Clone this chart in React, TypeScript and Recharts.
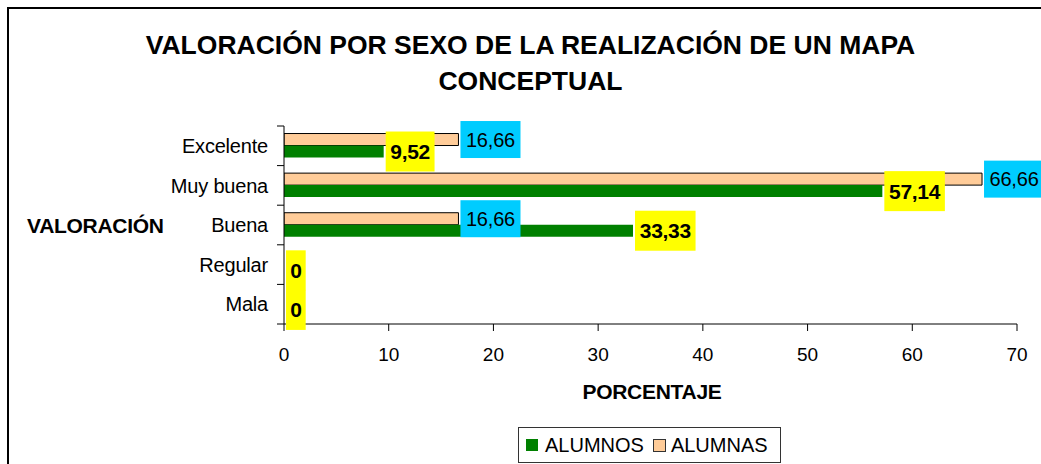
import React from 'react';
import { BarChart, Bar, XAxis, YAxis, LabelList } from 'recharts';

const CATEGORIES = ['Excelente', 'Muy buena', 'Buena', 'Regular', 'Mala'];
const ALUMNOS = [9.52, 57.14, 33.33, 0, 0];
const ALUMNAS = [16.66, 66.66, 16.66, null, null];
const X_TICKS = [0, 10, 20, 30, 40, 50, 60, 70];
const TITLE_LINES = ['VALORACIÓN POR SEXO DE LA REALIZACIÓN DE UN MAPA', 'CONCEPTUAL'];
const SERIES_NAMES = ['ALUMNOS', 'ALUMNAS'];

const data = CATEGORIES.map((name, i) => ({ name, alumnos: ALUMNOS[i], alumnas: ALUMNAS[i] }));

const FONT = '"Liberation Sans", Arial, sans-serif';
const fmt = (v: number) => v.toFixed(2).replace('.', ',').replace(/,00$/, '');

const textWidth = (s: string, size: number) => {
  let w = 0;
  for (const ch of s) w += ch === ',' ? 0.278 : 0.556;
  return w * size;
};

const AlumnosLabel = (props: any) => {
  const { x, y, width, height, value } = props;
  if (value === null || value === undefined) return null;
  const s = fmt(Number(value));
  const bw = textWidth(s, 21) + 8;
  const bh = 40;
  const bx = Number(x) + Number(width) + 2;
  const cy = Number(y) + Number(height) / 2;
  return (
    <g>
      <rect x={bx} y={cy - bh / 2} width={bw} height={bh} fill="#FFFF00" />
      <text x={bx + bw / 2} y={cy} dy="0.36em" textAnchor="middle" fontFamily={FONT} fontWeight="bold" fontSize={21} fill="#000" letterSpacing={-0.3}>{s}</text>
    </g>
  );
};

const AlumnasLabel = (props: any) => {
  const { x, y, width, height, value } = props;
  if (value === null || value === undefined) return null;
  const s = fmt(Number(value));
  const bw = textWidth(s, 20) + 10;
  const bh = 37;
  const bx = Number(x) + Number(width) + 2;
  const cy = Number(y) + Number(height) / 2;
  return (
    <g>
      <rect x={bx} y={cy - bh / 2} width={bw} height={bh} fill="#00CCFF" />
      <text x={bx + bw / 2} y={cy} dy="0.36em" textAnchor="middle" fontFamily={FONT} fontSize={20} fill="#000" letterSpacing={-0.2}>{s}</text>
    </g>
  );
};

const CategoryTick = (props: any) => {
  const { x, y, payload, index } = props;
  const off = payload && typeof payload.offset === 'number' ? payload.offset : 19.8;
  const lx2 = x + 16;
  const lx1 = x + 9;
  return (
    <g>
      <text x={x} y={y} dy="0.36em" textAnchor="end" fontFamily={FONT} fontSize={20} fill="#000" letterSpacing={-0.2}>{payload.value}</text>
      <line x1={lx1} x2={lx2} y1={y - off} y2={y - off} stroke="#000" strokeWidth={1} />
      {index === CATEGORIES.length - 1 && (
        <line x1={lx1} x2={lx2} y1={y + off} y2={y + off} stroke="#000" strokeWidth={1} />
      )}
    </g>
  );
};

const tinyForZero = (v: any) => (v === 0 ? 0.01 : 0);

export default function App() {
  return (
    <div style={{ position: 'absolute', left: 0, top: 0, width: 1041, height: 464, overflow: 'hidden', background: '#fff', fontFamily: FONT }}>
      <div style={{ position: 'absolute', left: 7, top: 7, width: 1100, height: 500, borderLeft: '2px solid #000', borderTop: '2px solid #000', boxSizing: 'border-box' }} />
      <div style={{ position: 'absolute', left: 0, width: 1061, top: 27, textAlign: 'center', fontSize: 26.5, fontWeight: 'bold', lineHeight: '36px', color: '#000' }}>
        {TITLE_LINES.map((l) => (<div key={l}>{l}</div>))}
      </div>
      <div style={{ position: 'absolute', left: 27, top: 213, fontSize: 21, fontWeight: 'bold', letterSpacing: -0.3, lineHeight: '26px', color: '#000' }}>VALORACIÓN</div>
      <div style={{ position: 'absolute', left: 484, width: 336, top: 379, textAlign: 'center', fontSize: 21, fontWeight: 'bold', letterSpacing: -0.3, lineHeight: '26px', color: '#000' }}>PORCENTAJE</div>
      <div style={{ position: 'absolute', left: 518, top: 427, width: 263, height: 36, border: '1px solid #333', boxSizing: 'border-box', display: 'flex', alignItems: 'center', paddingLeft: 7, fontSize: 20, color: '#000' }}>
        <span style={{ display: 'inline-block', width: 12, height: 12, background: '#008000', marginRight: 7 }} />
        <span style={{ marginRight: 9 }}>{SERIES_NAMES[0]}</span>
        <span style={{ display: 'inline-block', width: 11, height: 11, background: '#FFCC99', border: '1px solid #333', marginRight: 5 }} />
        <span>{SERIES_NAMES[1]}</span>
      </div>
      <div style={{ position: 'absolute', left: 0, top: 0 }}>
        <BarChart width={1041} height={464} data={data} layout="vertical" margin={{ top: 126, right: 24, bottom: 110, left: 0 }} barCategoryGap="19%" barGap={0}>
          <XAxis type="number" domain={[0, 70]} ticks={X_TICKS} interval={0} height={30} tickSize={7} tickMargin={17} stroke="#000" tick={{ fill: '#000', fontSize: 19, fontFamily: FONT }} allowDataOverflow />
          <YAxis type="category" dataKey="name" width={284} tickSize={7} tickMargin={9} tickLine={false} stroke="#000" tick={<CategoryTick />} interval={0} />
          <Bar dataKey="alumnas" name={SERIES_NAMES[1]} fill="#FFCC99" stroke="#000" strokeWidth={1} isAnimationActive={false}>
            <LabelList dataKey="alumnas" content={<AlumnasLabel />} />
          </Bar>
          <Bar dataKey="alumnos" name={SERIES_NAMES[0]} fill="#008000" minPointSize={tinyForZero} isAnimationActive={false}>
            <LabelList dataKey="alumnos" content={<AlumnosLabel />} />
          </Bar>
        </BarChart>
      </div>
    </div>
  );
}
